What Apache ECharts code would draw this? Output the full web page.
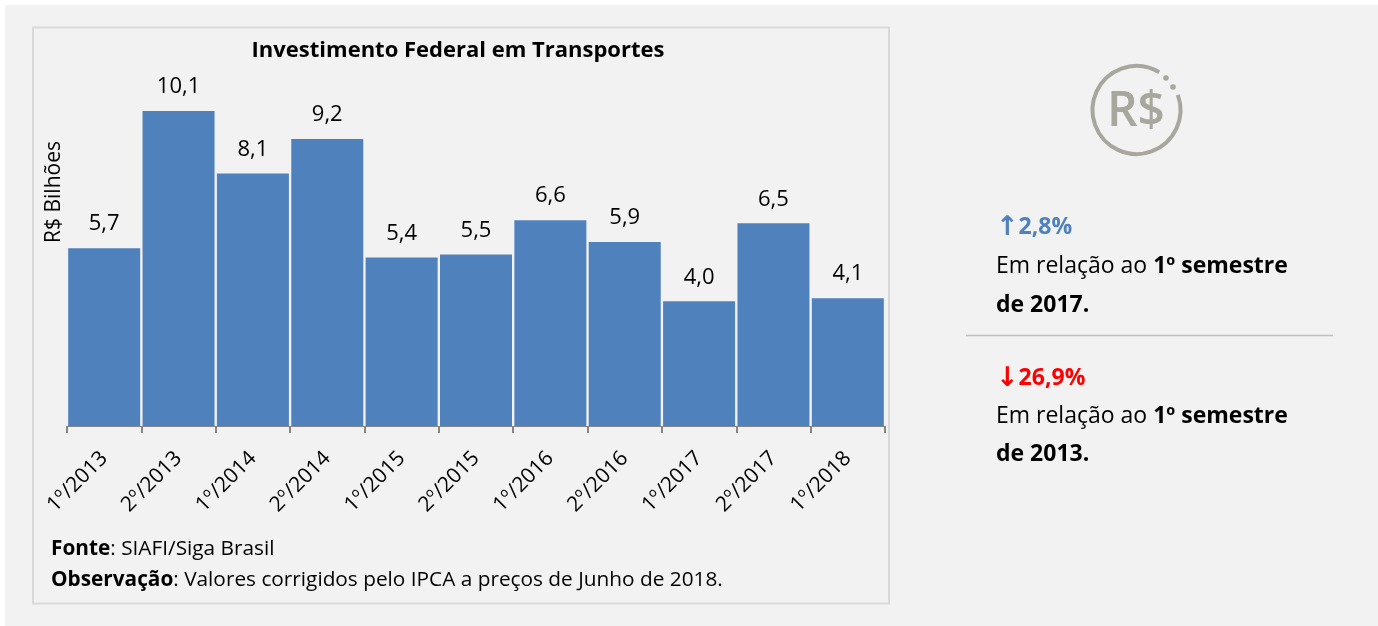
<!DOCTYPE html>
<html>
<head>
<meta charset="utf-8">
<script src="https://cdn.jsdelivr.net/npm/echarts@6/dist/echarts.min.js"></script>
<style>
html, body { margin: 0; padding: 0; background: #fff; }
#chart { width: 1378px; height: 626px; }
</style>
</head>
<body>
<div id="chart"></div>
<script>
const categories = ['1º/2013', '2º/2013', '1º/2014', '2º/2014', '1º/2015', '2º/2015', '1º/2016', '2º/2016', '1º/2017', '2º/2017', '1º/2018'];
const values = [5.7, 10.1, 8.1, 9.2, 5.4, 5.5, 6.6, 5.9, 4.0, 6.5, 4.1];

const font = 'Open Sans';
const black = '#000';
const iconGrey = '#a8a79d';

const chart = echarts.init(document.getElementById('chart'));

chart.setOption({
    animation: false,
    textStyle: {fontFamily: font},
    title: {
        text: 'Investimento Federal em Transportes',
        left: 453,
        top: 35,
        textAlign: 'center',
        textStyle: {fontFamily: font, fontSize: 22, fontWeight: 'bold', color: black}
    },
    grid: {left: 67, right: 493, top: 111, bottom: 200},
    xAxis: {
        type: 'category',
        data: categories,
        boundaryGap: true,
        axisLine: {lineStyle: {color: '#868686', width: 1}},
        axisTick: {show: true, alignWithLabel: false, length: 7, lineStyle: {color: '#868686', width: 2}},
        axisLabel: {interval: 0, rotate: 45, fontSize: 21, color: black, margin: 29, fontFamily: font}
    },
    yAxis: {
        type: 'value',
        min: 0,
        max: 10.1,
        show: true,
        splitLine: {show: false},
        axisLine: {show: false},
        axisTick: {show: false},
        axisLabel: {show: false},
        name: 'R$ Bilhões',
        nameLocation: 'middle',
        nameRotate: 90,
        nameGap: 2,
        nameTextStyle: {fontSize: 21, color: black, fontFamily: font, padding: [0, 0, 0, 153]}
    },
    series: [{
        type: 'bar',
        data: values,
        barWidth: 72,
        itemStyle: {color: '#4f81bd'},
        label: {
            show: true,
            position: 'top',
            distance: 13,
            fontSize: 22,
            color: black,
            fontFamily: font,
            formatter: (p) => p.value.toFixed(1).replace('.', ',')
        }
    }],
    graphic: [
        {type: 'rect', z: -10, shape: {x: 5, y: 5, width: 1373, height: 621}, style: {fill: '#f2f2f2'}},
        {type: 'rect', z: -9, shape: {x: 33, y: 27.5, width: 856, height: 576}, style: {fill: '#f2f2f2', stroke: '#d9d9d9', lineWidth: 2}},

        {type: 'text', left: 51, top: 534, style: {
            text: '{b|Fonte}: SIAFI/Siga Brasil\n{b|Observação}: Valores corrigidos pelo IPCA a preços de Junho de 2018.',
            fontFamily: font, fontSize: 20.8, lineHeight: 31, fill: black,
            rich: {b: {fontWeight: 'bold', fontFamily: font, fontSize: 20.8, lineHeight: 31}}
        }},

        // ícone R$
        {type: 'arc', shape: {cx: 1136.5, cy: 110, r: 44, startAngle: -0.35, endAngle: -1.03, clockwise: true},
            style: {stroke: iconGrey, lineWidth: 4, fill: null}},
        {type: 'circle', shape: {cx: 1166, cy: 78, r: 2.8}, style: {fill: iconGrey}},
        {type: 'circle', shape: {cx: 1173, cy: 87, r: 2.8}, style: {fill: iconGrey}},
        {type: 'text', x: 1136, y: 112, style: {text: 'R$', fontFamily: font, fontSize: 48, fontWeight: 600, fill: iconGrey, align: 'center', verticalAlign: 'middle'}},

        {type: 'text', left: 996, top: 214, style: {
            text: '{a|↑}{u|2,8%}',
            rich: {
                a: {fontFamily: 'DejaVu Sans', fontSize: 27, fontWeight: 'bold', fill: '#4f81bd'},
                u: {fontFamily: font, fontSize: 23, fontWeight: 'bold', fill: '#4f81bd'}
            }
        }},
        {type: 'text', left: 996, top: 247, style: {
            text: 'Em relação ao {b|1º semestre}\n{b|de 2017.}',
            fontFamily: font, fontSize: 23, lineHeight: 39, fill: black,
            rich: {b: {fontWeight: 'bold', fontFamily: font, fontSize: 23, lineHeight: 39}}
        }},
        {type: 'line', shape: {x1: 966, y1: 335.5, x2: 1333, y2: 335.5}, style: {stroke: '#bfbfbf', lineWidth: 1.5}},
        {type: 'text', left: 996, top: 365, style: {
            text: '{a|↓}{u|26,9%}',
            rich: {
                a: {fontFamily: 'DejaVu Sans', fontSize: 27, fontWeight: 'bold', fill: '#ff0000'},
                u: {fontFamily: font, fontSize: 23, fontWeight: 'bold', fill: '#ff0000'}
            }
        }},
        {type: 'text', left: 996, top: 397, style: {
            text: 'Em relação ao {b|1º semestre}\n{b|de 2013.}',
            fontFamily: font, fontSize: 23, lineHeight: 38, fill: black,
            rich: {b: {fontWeight: 'bold', fontFamily: font, fontSize: 23, lineHeight: 38}}
        }}
    ]
});
</script>
</body>
</html>
